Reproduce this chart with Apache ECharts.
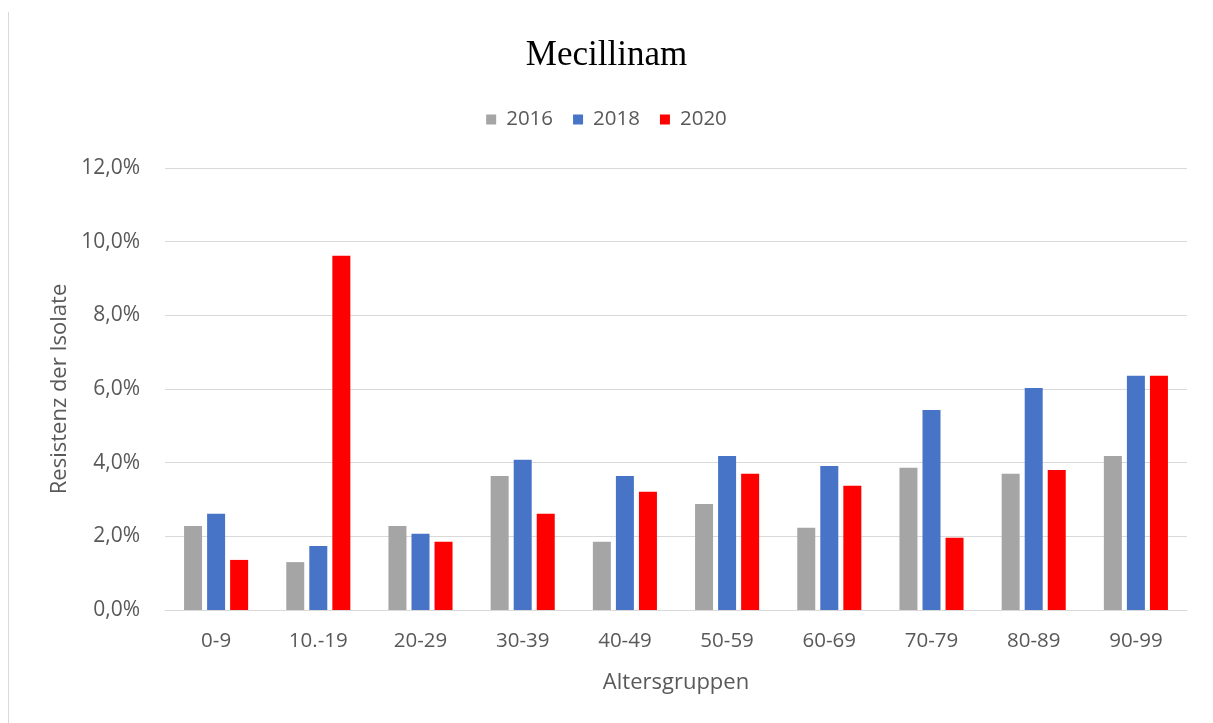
<!DOCTYPE html>
<html>
<head>
<meta charset="utf-8">
<title>Mecillinam</title>
<script src="https://cdn.jsdelivr.net/npm/echarts@6/dist/echarts.min.js"></script>
<style>
  html, body { margin: 0; padding: 0; background: #fff; }
  #chart { width: 1213px; height: 723px; }
</style>
</head>
<body>
<div id="chart"></div>
<script>
// Resistance (%) of isolates per age group
const ageGroups = ['0-9', '10.-19', '20-29', '30-39', '40-49', '50-59', '60-69', '70-79', '80-89', '90-99'];
const years = ['2016', '2018', '2020'];
const values2016 = [2.28, 1.30, 2.28, 3.64, 1.85, 2.88, 2.23, 3.86, 3.70, 4.18];
const values2018 = [2.61, 1.74, 2.07, 4.08, 3.64, 4.18, 3.91, 5.43, 6.03, 6.36];
const values2020 = [1.36, 9.62, 1.85, 2.61, 3.21, 3.70, 3.37, 1.96, 3.80, 6.36];
const yearColors = ['#a5a5a5', '#4874c8', '#ff0000'];

const textColor = '#595959';
const font = '"Open Sans", "Liberation Sans", sans-serif';
const fmtPct = v => v.toFixed(1).replace('.', ',') + '%';

const seriesValues = [values2016, values2018, values2020];

const chart = echarts.init(document.getElementById('chart'), null, { renderer: 'canvas' });
chart.setOption({
  backgroundColor: '#ffffff',
  animation: false,
  title: {
    text: 'Mecillinam',
    left: 'center',
    top: 33,
    textStyle: { fontFamily: '"Liberation Serif", "DejaVu Serif", serif', fontSize: 35, fontWeight: 'normal', color: '#000' }
  },
  legend: {
    data: years,
    top: 104,
    left: 'center',
    icon: 'rect',
    itemWidth: 10,
    itemHeight: 10,
    itemGap: 20,
    textStyle: { fontFamily: font, fontSize: 20.5, color: textColor, padding: [0, 0, 0, 5] }
  },
  grid: { left: 165, right: 26, top: 168, bottom: 113 },
  xAxis: {
    type: 'category',
    data: ageGroups,
    name: 'Altersgruppen',
    nameLocation: 'middle',
    nameGap: 62,
    nameTextStyle: { fontFamily: font, fontSize: 22, color: textColor },
    axisLine: { lineStyle: { color: '#d9d9d9', width: 1 } },
    axisTick: { show: false },
    axisLabel: { fontFamily: font, fontSize: 20.5, color: textColor, margin: 21 }
  },
  yAxis: {
    type: 'value',
    min: 0,
    max: 12,
    interval: 2,
    name: 'Resistenz der Isolate',
    nameLocation: 'middle',
    nameGap: 94,
    nameTextStyle: { fontFamily: font, fontSize: 22, color: textColor },
    axisLine: { show: false },
    axisTick: { show: false },
    axisLabel: { fontFamily: font, fontSize: 21, color: textColor, margin: 25, formatter: fmtPct },
    splitLine: { lineStyle: { color: '#d9d9d9', width: 1 } }
  },
  series: years.map((y, i) => ({
    name: y,
    type: 'bar',
    data: seriesValues[i],
    barWidth: 18,
    barGap: '28%',
    itemStyle: { color: yearColors[i] }
  })),
  graphic: [{
    type: 'line',
    shape: { x1: 8.5, y1: 12, x2: 8.5, y2: 723 },
    style: { stroke: '#d9d9d9', lineWidth: 1 }
  }]
});
</script>
</body>
</html>
